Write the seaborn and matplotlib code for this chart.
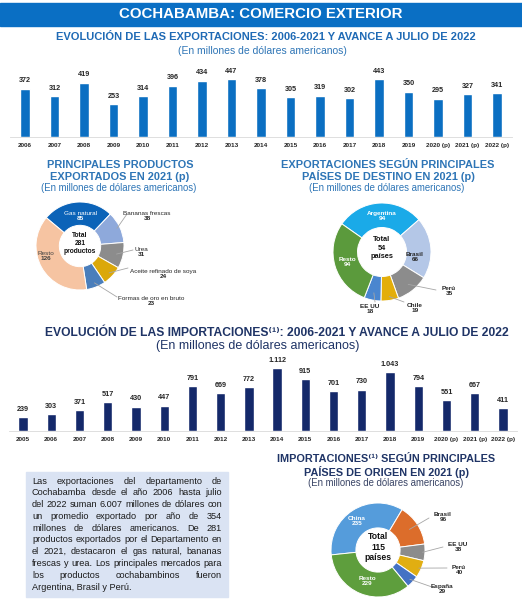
import matplotlib
matplotlib.use("Agg")
import matplotlib.pyplot as plt
import numpy as np
import pandas as pd
import seaborn as sns

W, H = 522, 600

export_years = ["2006", "2007", "2008", "2009", "2010", "2011", "2012", "2013", "2014",
                "2015", "2016", "2017", "2018", "2019", "2020 (p)", "2021 (p)", "2022 (p)"]
export_values = [372, 312, 419, 253, 314, 396, 434, 447, 378, 305, 319, 302, 443, 350, 295, 327, 341]

import_years = ["2005", "2006", "2007", "2008", "2009", "2010", "2011", "2012", "2013", "2014",
                "2015", "2016", "2017", "2018", "2019", "2020 (p)", "2021 (p)", "2022 (p)"]
import_values = [239, 303, 371, 517, 430, 447, 791, 669, 772, 1112, 915, 701, 730, 1043, 794, 551, 667, 411]

product_names = ["Gas natural", "Bananas frescas", "Urea", "Aceite refinado de soya",
                 "Formas de oro en bruto", "Resto"]
product_values = [85, 38, 31, 24, 23, 126]
product_colors = ["#0B63B8", "#8EA9DB", "#8C8C8C", "#DBA80A", "#4A7EBB", "#F6C4A2"]

dest_names = ["Argentina", "Brasil", "Perú", "Chile", "EE UU", "Resto"]
dest_values = [94, 66, 35, 19, 18, 94]
dest_colors = ["#1AAAE8", "#B4C7E7", "#8C8C8C", "#E3AE0A", "#4A86CF", "#5B9A3C"]

origin_names = ["China", "Brasil", "EE UU", "Perú", "España", "Resto"]
origin_values = [235, 96, 38, 40, 29, 229]
origin_colors = ["#559CDB", "#DC6D2B", "#8C8C8C", "#E1AE12", "#4472C4", "#5E9E3D"]

summary_lines = [
    "Las exportaciones del departamento de",
    "Cochabamba desde el año 2006 hasta julio",
    "del 2022 suman 6.007 millones de dólares con",
    "un promedio exportado por año de 354",
    "millones de dólares americanos. De 281",
    "productos exportados por el Departamento en",
    "el 2021, destacaron el gas natural, bananas",
    "frescas y urea. Los principales mercados para",
    "los productos cochabambinos fueron",
    "Argentina, Brasil y Perú.",
]

BLUE = "#1F6AB5"
LIGHT_BLUE = "#2E75B6"
NAVY = "#1F3466"
FONT = ["Liberation Sans", "DejaVu Sans"]

sns.set_theme(style="white")
plt.rcParams["font.family"] = FONT

fig = plt.figure(figsize=(W / 100, H / 100), dpi=100)


def px_axes(x0, y0, x1, y1, **kw):
    return fig.add_axes([x0 / W, 1 - y1 / H, (x1 - x0) / W, (y1 - y0) / H], **kw)


def overlay(z):
    ax = fig.add_axes([0, 0, 1, 1], zorder=z)
    ax.set_xlim(0, W)
    ax.set_ylim(H, 0)
    ax.axis("off")
    return ax


bg = overlay(0)
top = overlay(10)


def fmt(v):
    return f"{v:,}".replace(",", ".")


def bar_panel(rect, cats, vals, color, ymax):
    ax = px_axes(*rect, zorder=2)
    df = pd.DataFrame({"year": cats, "value": vals})
    sns.barplot(data=df, x="year", y="value", color=color, saturation=1, width=0.33, ax=ax)
    ax.set_xlim(-0.5, len(cats) - 0.5)
    ax.set_ylim(0, ymax)
    ax.bar_label(ax.containers[0], labels=[fmt(v) for v in vals], padding=3,
                 fontsize=5.2, fontweight="bold", color="#262626")
    ax.set_xlabel("")
    ax.set_ylabel("")
    ax.set_yticks([])
    ax.tick_params(axis="x", length=0, labelsize=4.6, pad=4, colors="#262626")
    for t in ax.get_xticklabels():
        t.set_fontweight("bold")
    for s in ["top", "left", "right"]:
        ax.spines[s].set_visible(False)
    ax.spines["bottom"].set_color("#D9D9D9")
    ax.spines["bottom"].set_linewidth(0.6)
    ax.patch.set_alpha(0)
    return ax


def donut(cx, cy, r, vals, colors, start, hole):
    ax = px_axes(cx - r, cy - r, cx + r, cy + r, zorder=2)
    wedges, _ = ax.pie(vals, colors=colors, startangle=start, counterclock=False, radius=1,
                       wedgeprops=dict(width=1 - hole, edgecolor="white", linewidth=0.7))
    for w in wedges:
        w.set_clip_on(False)
    ax.set_xlim(-1, 1)
    ax.set_ylim(-1, 1)
    ax.patch.set_alpha(0)
    return wedges


def leader(wedge, cx, cy, r, rr, end):
    a = np.deg2rad((wedge.theta1 + wedge.theta2) / 2)
    x0 = cx + r * rr * np.cos(a)
    y0 = cy - r * rr * np.sin(a)
    top.plot([x0, end[0]], [y0, end[1]], color="#A6A6A6", lw=0.6)


def label(x, y, name, value, color="#262626", name_bold=True, size=4.6):
    top.text(x, y - 0.3, name, ha="center", va="bottom", fontsize=size, color=color,
             fontweight="bold" if name_bold else "normal")
    top.text(x, y + 0.3, fmt(value), ha="center", va="top", fontsize=size,
             color=color, fontweight="bold")


def justify(lines, x0, x1, y0, dy, **kw):
    r = fig.canvas.get_renderer()
    for i, line in enumerate(lines):
        y = y0 + i * dy
        words = line.split()
        if i == len(lines) - 1:
            top.text(x0, y, line, ha="left", va="center", **kw)
            continue
        texts = [top.text(0, y, w, ha="left", va="center", **kw) for w in words]
        widths = [t.get_window_extent(r).width for t in texts]
        gap = (x1 - x0 - sum(widths)) / (len(words) - 1)
        x = x0
        for t, w in zip(texts, widths):
            t.set_x(x)
            x += w + gap


def title(x, y, s, size, color, bold=True):
    top.text(x, y, s, ha="center", va="center", fontsize=size, color=color,
             fontweight="bold" if bold else "normal")


# header band
bg.add_patch(plt.Rectangle((0, 3), W, 23, color="#0A6FC4"))
title(W / 2, 14.5, "COCHABAMBA: COMERCIO EXTERIOR", 10.8, "white")

# exports over time
title(266, 37.5, "EVOLUCIÓN DE LAS EXPORTACIONES: 2006-2021 Y AVANCE A JULIO DE 2022", 8.0, BLUE)
title(262, 50.5, "(En millones de dólares americanos)", 7.5, LIGHT_BLUE, bold=False)
bar_panel((10.2, 137 - 560 * 0.13, 511.7, 137), export_years, export_values, "#0B6FC2", 560)

# products donut
title(120, 165, "PRINCIPALES PRODUCTOS", 7.9, LIGHT_BLUE)
title(120, 176.5, "EXPORTADOS EN 2021 (p)", 7.9, LIGHT_BLUE)
title(119, 188, "(En millones de dólares americanos)", 6.9, LIGHT_BLUE, bold=False)
pcx, pcy, pr = 80, 246, 44
pw = donut(pcx, pcy, pr, product_values, product_colors, 140, 0.47)
top.text(pcx, 243.5, "Total\n281\nproductos", ha="center", va="center", fontsize=4.8,
         fontweight="bold", color="#111111", linespacing=1.2)
label(80, 216, product_names[0], product_values[0], color="white", name_bold=False)
label(46, 256, product_names[5], product_values[5], color="#404040", name_bold=False)
label(147, 216, product_names[1], product_values[1], name_bold=False)
label(141, 252, product_names[2], product_values[2], name_bold=False)
label(163, 274, product_names[3], product_values[3], name_bold=False)
label(151, 301, product_names[4], product_values[4], name_bold=False)
leader(pw[1], pcx, pcy, pr, 0.93, (127, 214))
leader(pw[2], pcx, pcy, pr, 0.85, (133, 250))
leader(pw[3], pcx, pcy, pr, 0.9, (128, 268))
leader(pw[4], pcx, pcy, pr, 0.9, (117, 297))

# destinations donut
title(388, 165, "EXPORTACIONES SEGÚN PRINCIPALES", 7.9, LIGHT_BLUE)
title(388, 176.5, "PAÍSES DE DESTINO EN 2021 (p)", 7.9, LIGHT_BLUE)
title(387, 188, "(En millones de dólares americanos)", 6.9, LIGHT_BLUE, bold=False)
dcx, dcy, dr = 382, 252, 49
dw = donut(dcx, dcy, dr, dest_values, dest_colors, 145, 0.5)
top.text(dcx, 248, "Total\n54\npaíses", ha="center", va="center", fontsize=5.3,
         fontweight="bold", color="#111111", linespacing=1.25)
label(382, 216, dest_names[0], dest_values[0], color="white")
label(415, 257, dest_names[1], dest_values[1], color="#262626")
label(347, 262, dest_names[5], dest_values[5], color="white")
label(449, 291, dest_names[2], dest_values[2])
label(415, 308, dest_names[3], dest_values[3])
label(370, 309, dest_names[4], dest_values[4])
leader(dw[2], dcx, dcy, dr, 0.85, (436, 290))
leader(dw[3], dcx, dcy, dr, 0.92, (404, 302))
leader(dw[4], dcx, dcy, dr, 0.85, (375, 302))

# imports over time
title(277, 333, "EVOLUCIÓN DE LAS IMPORTACIONES⁽¹⁾: 2006-2021 Y AVANCE A JULIO DE 2022", 8.7, NAVY)
title(258, 346.5, "(En millones de dólares americanos)", 9.0, NAVY, bold=False)
bar_panel((8.9, 431 - 1250 * 0.0567, 517.1, 431), import_years, import_values, "#14296A", 1250)

# summary box
bg.add_patch(plt.Rectangle((26, 472), 202, 125, color="#DAE3F3"))
justify(summary_lines, 32, 222, 481, 11.8, fontsize=6.6, color="#1A1A1A")

# origins donut
title(386, 458.5, "IMPORTACIONES⁽¹⁾ SEGÚN PRINCIPALES", 7.8, NAVY)
title(386, 471.5, "PAÍSES DE ORIGEN EN 2021 (p)", 7.8, NAVY)
title(386, 483.5, "(En millones de dólares americanos)", 6.9, "#3A4566", bold=False)
ocx, ocy, orr = 378, 550, 47
ow = donut(ocx, ocy, orr, origin_values, origin_colors, 186, 0.47)
top.text(ocx, 547, "Total\n115\npaíses", ha="center", va="center", fontsize=6.2,
         fontweight="bold", color="#111111", linespacing=1.2)
label(357, 521, origin_names[0], origin_values[0], color="white")
label(367, 581, origin_names[5], origin_values[5], color="white")
label(443, 517, origin_names[1], origin_values[1])
label(458, 547, origin_names[2], origin_values[2])
label(459, 570, origin_names[3], origin_values[3])
label(442, 589, origin_names[4], origin_values[4])
leader(ow[1], ocx, ocy, orr, 0.8, (429, 518))
leader(ow[2], ocx, ocy, orr, 0.95, (443, 547))
leader(ow[3], ocx, ocy, orr, 0.95, (447, 568))
leader(ow[4], ocx, ocy, orr, 0.92, (432, 587))

fig.savefig("out.png", dpi=100)
